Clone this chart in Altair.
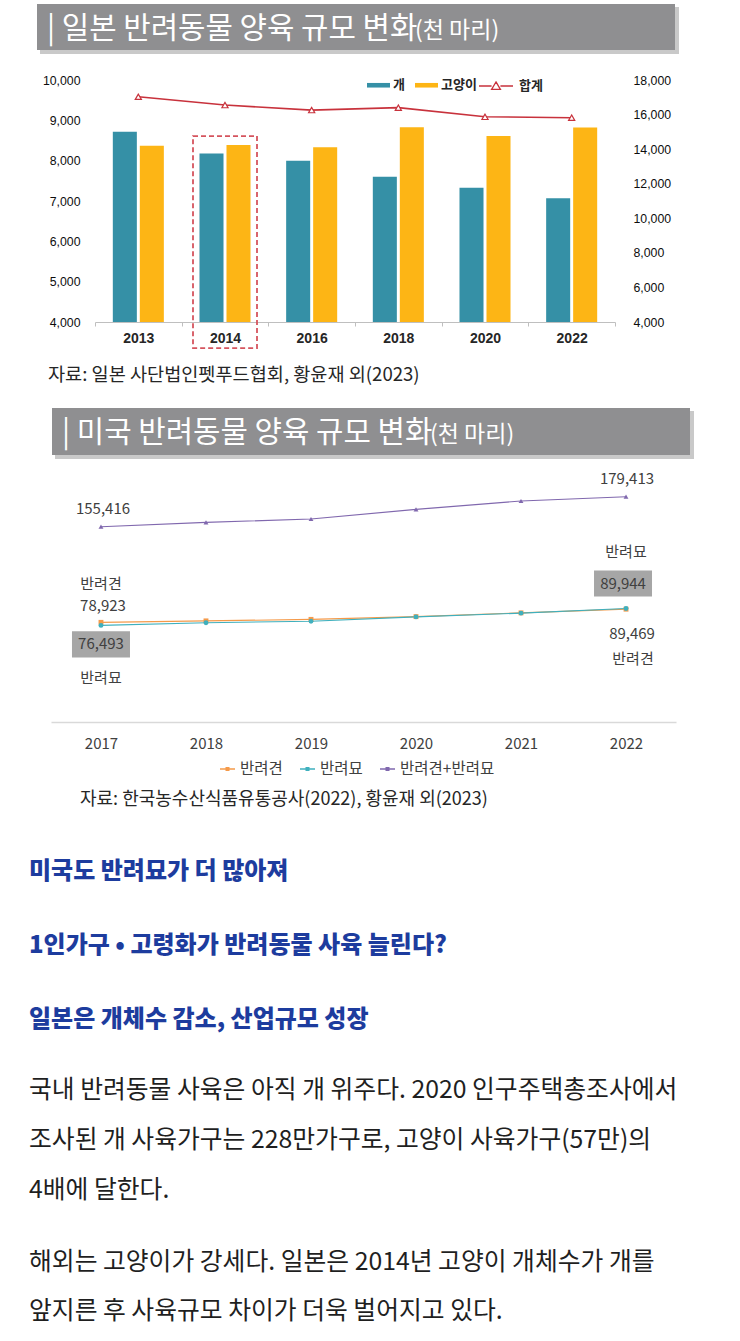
import altair as alt
import pandas as pd

# ---------------- data ----------------
jp_years = ["2013", "2014", "2016", "2018", "2020", "2022"]
jp_dogs = [8714, 8180, 8000, 7600, 7330, 7070]
jp_cats = [8370, 8390, 8330, 8830, 8610, 8820]
jp_total = [17030, 16550, 16260, 16400, 15870, 15820]
jp_highlight_year = ["2014"]
jp_left_ticks = [4000, 5000, 6000, 7000, 8000, 9000, 10000]
jp_right_ticks = [4000, 6000, 8000, 10000, 12000, 14000, 16000, 18000]
jp_animals = ["개", "고양이"]
jp_line_name = ["합계"]

us_years = ["2017", "2018", "2019", "2020", "2021", "2022"]
us_dogs = [78923, 80100, 81300, 83500, 86500, 89469]
us_cats = [76493, 78600, 79800, 83300, 86300, 89944]
us_total = [155416, 158900, 161600, 169300, 176000, 179413]
us_series = ["반려견", "반려묘", "반려견+반려묘"]

title_jp = "| 일본 반려동물 양육 규모 변화"
title_us = "| 미국 반려동물 양육 규모 변화"
title_unit = "(천 마리)"
source_jp = "자료: 일본 사단법인펫푸드협회, 황윤재 외(2023)"
source_us = "자료: 한국농수산식품유통공사(2022), 황윤재 외(2023)"
headings = ["미국도 반려묘가 더 많아져",
            "1인가구 • 고령화가 반려동물 사육 늘린다?",
            "일본은 개체수 감소, 산업규모 성장"]
para1 = ["국내 반려동물 사육은 아직 개 위주다. 2020 인구주택총조사에서",
         "조사된 개 사육가구는 228만가구로, 고양이 사육가구(57만)의",
         "4배에 달한다."]
para2 = ["해외는 고양이가 강세다. 일본은 2014년 고양이 개체수가 개를",
         "앞지른 후 사육규모 차이가 더욱 벌어지고 있다."]

# ---------------- style ----------------
W, H = 740, 1341
KR = "Noto Sans CJK KR"
LAT = "Liberation Sans"
TEAL = "#3590A6"
GOLD = "#FDB515"
RED = "#C8323C"
DASH_RED = "#D5545E"
ORANGE = "#F59A4A"
AQUA = "#3FB0BE"
PURPLE = "#8068AE"
BANNER = "#8F8F91"
HEAD_BLUE = "#1D3C9E"


def jx():
    return alt.Scale(type="band", domain=jp_years, range=[95, 615], paddingInner=0, paddingOuter=0)


def jyl(clamp=True):
    return alt.Scale(domain=[4000, 10000], range=[322, 80], zero=False, nice=False, clamp=clamp)


def jyr():
    return alt.Scale(domain=[4000, 18000], range=[322, 80], zero=False, nice=False)


def ux():
    return alt.Scale(type="point", domain=us_years, range=[51, 676], padding=0.476)


def uy():
    return alt.Scale(domain=[0, 200000], range=[721, 471], zero=True, nice=False)


def one_row(**kw):
    return pd.DataFrame({k: [v] for k, v in kw.items()})


def static_text(txt, x, y, size, color, weight="normal", font=KR, baseline="middle", align="left"):
    return alt.Chart(one_row(t=txt)).mark_text(
        align=align, baseline=baseline, font=font, fontSize=size, fontWeight=weight, color=color
    ).encode(x=alt.value(x), y=alt.value(y), text="t:N")


def banner(x0, x1, y0, y1):
    shadow = alt.Chart(one_row(a=0)).mark_rect(color="#C9C9C9").encode(
        x=alt.value(x0 + 3), x2=alt.value(x1 + 4), y=alt.value(y0 + 3), y2=alt.value(y1 + 4))
    rect = alt.Chart(one_row(a=0)).mark_rect(color=BANNER).encode(
        x=alt.value(x0), x2=alt.value(x1), y=alt.value(y0), y2=alt.value(y1))
    return [shadow, rect]


layers = []

# ---------------- banners ----------------
layers += banner(37, 675, 4, 50)
layers.append(static_text(title_jp, 47, 38, 29.8, "white", baseline="alphabetic"))
layers.append(static_text(title_unit, 415, 38, 23, "white", baseline="alphabetic"))

layers += banner(52, 690, 408, 455)
layers.append(static_text(title_us, 62, 442, 29.8, "white", baseline="alphabetic"))
layers.append(static_text(title_unit, 430, 442, 23, "white", baseline="alphabetic"))

# ---------------- Japan chart ----------------
n = len(jp_years)
jp_long = pd.DataFrame({
    "year": jp_years * 2,
    "animal": [jp_animals[0]] * n + [jp_animals[1]] * n,
    "value": jp_dogs + jp_cats,
})
jp_tot = pd.DataFrame({"year": jp_years, "total": jp_total, "series": jp_line_name * n})

bars = alt.Chart(jp_long).mark_bar().encode(
    x=alt.X("year:N", scale=jx(), axis=alt.Axis(
        orient="bottom", offset=322 - H, title=None, labelAngle=0, tickBand="extent",
        tickSize=4, tickColor="#BFBFBF", domainColor="#BFBFBF", domainWidth=1,
        labelFont=LAT, labelFontSize=14, labelFontWeight="bold", labelColor="#262626",
        labelPadding=5, grid=False)),
    xOffset=alt.XOffset("animal:N", scale=alt.Scale(domain=jp_animals, paddingInner=0.11, paddingOuter=0.66)),
    y=alt.Y("value:Q", scale=jyl(), axis=alt.Axis(
        orient="left", offset=-95, title=None, values=jp_left_ticks, format=",.0f",
        domain=False, ticks=False, tickSize=0, labelPadding=15, labelFont=LAT,
        labelFontSize=12.3, labelColor="#0d0d0d", grid=False)),
    y2=alt.datum(4000),
    color=alt.Color("animal:N", scale=alt.Scale(domain=jp_animals, range=[TEAL, GOLD]), legend=alt.Legend(
        orient="none", legendX=367, legendY=73.5, direction="horizontal", title=None,
        symbolType="M-1,-0.2H1V0.2H-1Z", symbolSize=529, symbolStrokeWidth=0,
        labelFont=KR, labelFontSize=13, labelFontWeight="bold", labelColor="#262626",
        labelOffset=3, columnPadding=10)),
)
layers.append(bars)

jp_line = alt.Chart(jp_tot).mark_line(strokeWidth=1.6).encode(
    x=alt.X("year:N", scale=jx(), axis=None),
    y=alt.Y("total:Q", scale=jyr(), axis=alt.Axis(
        orient="right", offset=615 - W, title=None, values=jp_right_ticks, format=",.0f",
        domain=False, ticks=False, tickSize=0, labelPadding=18, labelFont=LAT,
        labelFontSize=12.3, labelColor="#0d0d0d", grid=False)),
    color=alt.Color("series:N", scale=alt.Scale(domain=jp_line_name, range=[RED]), legend=alt.Legend(
        orient="none", legendX=478, legendY=68, direction="horizontal", title=None,
        symbolType="M-1,0H-0.26M0.26,0H1M0,-0.24L0.26,0.2L-0.26,0.2Z", symbolSize=1156,
        symbolStrokeWidth=1.3, labelFont=KR, labelFontSize=13, labelFontWeight="bold",
        labelColor="#262626", labelOffset=5)),
)
layers.append(jp_line)

jp_tri = alt.Chart(jp_tot).mark_point(
    shape="triangle-up", filled=True, fill="white", stroke=RED, strokeWidth=1.2, size=38, opacity=1
).encode(
    x=alt.X("year:N", scale=jx(), axis=None),
    y=alt.Y("total:Q", scale=jyr(), axis=None),
)
layers.append(jp_tri)

jp_hl = alt.Chart(pd.DataFrame({"year": jp_highlight_year})).mark_bar(
    width=64, fillOpacity=0, stroke=DASH_RED, strokeWidth=1.8, strokeDash=[5, 3]
).encode(
    x=alt.X("year:N", scale=jx(), axis=None),
    y=alt.Y(datum=8610, scale=jyl(clamp=False), axis=None),
    y2=alt.datum(3350),
)
layers.append(jp_hl)

layers.append(static_text(source_jp, 48, 375, 18.6, "#262626"))

# ---------------- US chart ----------------
m = len(us_years)
us_long = pd.DataFrame({
    "year": us_years * 3,
    "series": [us_series[0]] * m + [us_series[1]] * m + [us_series[2]] * m,
    "value": us_dogs + us_cats + us_total,
})

US_X = dict(scale=ux(), axis=None)
US_Y = dict(scale=uy(), axis=None)

us_lines = alt.Chart(us_long).mark_line(strokeWidth=1.1).encode(
    x=alt.X("year:N", scale=ux(), axis=alt.Axis(
        orient="bottom", offset=722 - H, title=None, labelAngle=0, ticks=False, tickSize=0,
        domainColor="#D9D9D9", domainWidth=1.5, labelPadding=14, labelFont=KR,
        labelFontSize=15, labelColor="#404040", grid=False)),
    y=alt.Y("value:Q", **US_Y),
    color=alt.Color("series:N", scale=alt.Scale(domain=us_series, range=[ORANGE, AQUA, PURPLE]), legend=alt.Legend(
        orient="none", legendX=219, legendY=760.5, direction="horizontal", title=None,
        symbolType="M-1,0H1M-0.16,-0.16H0.16V0.16H-0.16Z", symbolSize=225, symbolStrokeWidth=1.6,
        labelFont=KR, labelFontSize=15.5, labelColor="#404040", labelOffset=4, columnPadding=13)),
)
layers.append(us_lines)

us_pts = alt.Chart(us_long).mark_point(filled=True, size=24, opacity=1).encode(
    x=alt.X("year:N", **US_X),
    y=alt.Y("value:Q", **US_Y),
    color=alt.Color("series:N", scale=alt.Scale(domain=us_series, range=[ORANGE, AQUA, PURPLE]), legend=None),
    shape=alt.Shape("series:N", scale=alt.Scale(domain=us_series, range=["square", "circle", "triangle-up"]), legend=None),
)
layers.append(us_pts)

first, last = us_years[0], us_years[-1]


def us_label(series, year, dy, field="value", dx=0):
    enc = dict(x=alt.X("year:N", **US_X), y=alt.Y("value:Q", **US_Y))
    if field == "value":
        enc["text"] = alt.Text("value:Q", format=",")
    else:
        enc["text"] = alt.Text("series:N")
    return alt.Chart(us_long).transform_filter(
        (alt.datum.series == series) & (alt.datum.year == year)
    ).mark_text(dy=dy, dx=dx, font=KR, fontSize=15, color="#404040", align="center", baseline="middle").encode(**enc)


def us_box(series, year, yoff, xoff=0):
    return alt.Chart(us_long).transform_filter(
        (alt.datum.series == series) & (alt.datum.year == year)
    ).mark_point(shape="M-1,-0.45H1V0.45H-1Z", size=3364, filled=True, color="#A6A6A6",
                 opacity=1, yOffset=yoff, xOffset=xoff).encode(
        x=alt.X("year:N", **US_X), y=alt.Y("value:Q", **US_Y))


# totals
layers.append(us_label(us_series[2], first, -18, dx=2))
layers.append(us_label(us_series[2], last, -18, dx=1))
# 2017 dog (above)
layers.append(us_label(us_series[0], first, -16, dx=2))
layers.append(us_label(us_series[0], first, -38, field="series"))
# 2017 cat (below, boxed)
layers.append(us_box(us_series[1], first, 19))
layers.append(us_label(us_series[1], first, 19))
layers.append(us_label(us_series[1], first, 53, field="series"))
# 2022 cat (above, boxed)
layers.append(us_box(us_series[1], last, -25, xoff=-3))
layers.append(us_label(us_series[1], last, -25, dx=-3))
layers.append(us_label(us_series[1], last, -57, field="series"))
# 2022 dog (below)
layers.append(us_label(us_series[0], last, 25, dx=6))
layers.append(us_label(us_series[0], last, 50, field="series", dx=7))

layers.append(static_text(source_us, 80, 800, 18, "#262626"))

# ---------------- article text ----------------
for txt, y in zip(headings, [872, 946, 1020]):
    layers.append(static_text(txt, 29, y, 24, HEAD_BLUE, weight=900))
for txt, y in zip(para1, [1091, 1141, 1191]):
    layers.append(static_text(txt, 29, y, 24.8, "#1f1f1f"))
for txt, y in zip(para2, [1263, 1312]):
    layers.append(static_text(txt, 29, y, 24.8, "#1f1f1f"))

chart = alt.layer(*layers).resolve_scale(
    x="independent", y="independent", color="independent", shape="independent", xOffset="independent"
).resolve_axis(x="independent", y="independent").resolve_legend(color="independent").properties(
    width=W, height=H, autosize=alt.AutoSizeParams(type="none"), padding=0, background="white"
).configure_view(stroke=None)

chart.save("out.html", embed_options={"renderer": "svg", "actions": False})
